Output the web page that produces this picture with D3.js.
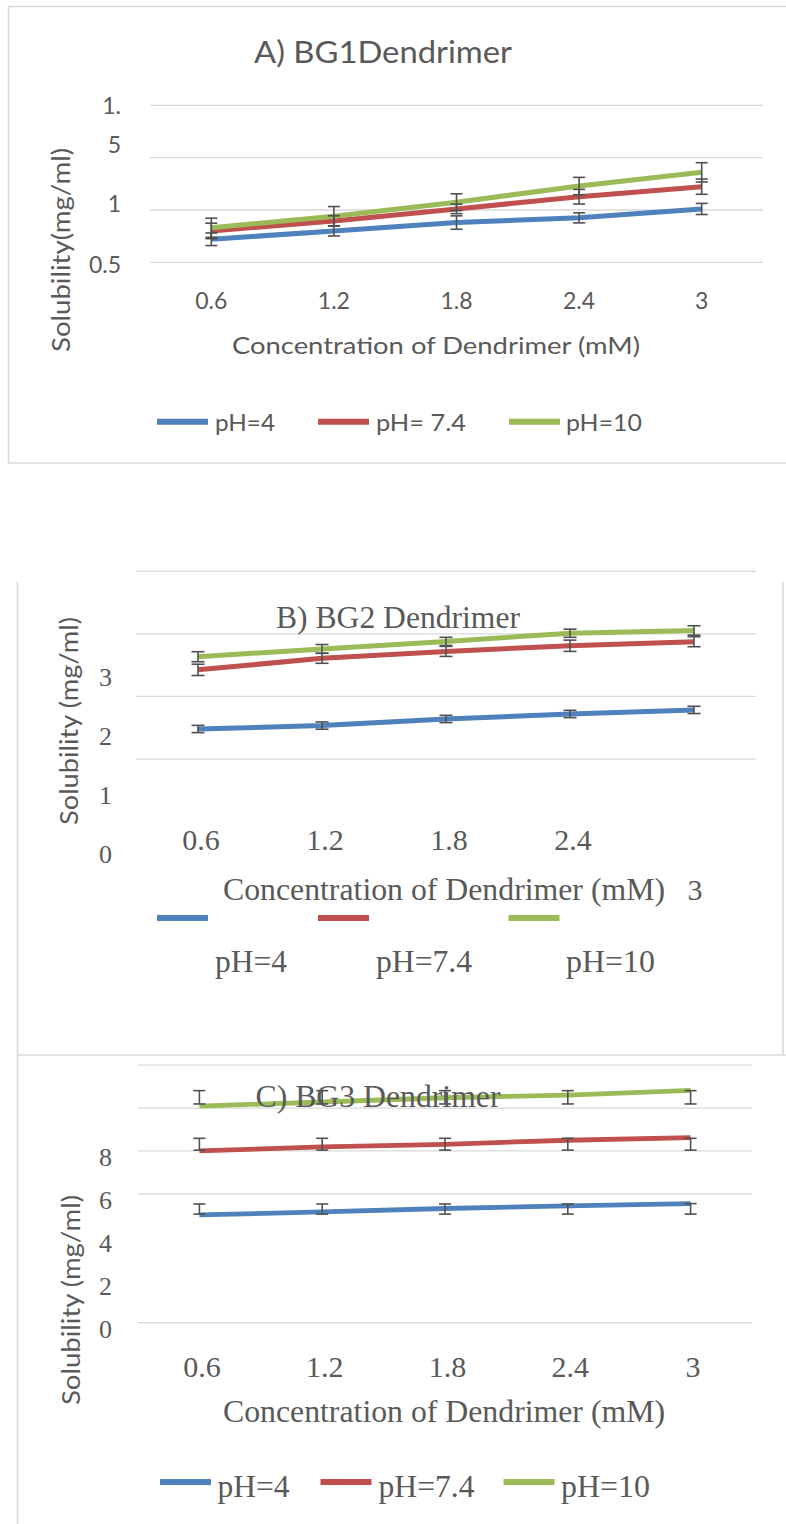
<!DOCTYPE html>
<html>
<head>
<meta charset="utf-8">
<script src="https://cdn.jsdelivr.net/npm/d3@7"></script>
<style>
  html, body { margin: 0; padding: 0; background: #ffffff; }
  svg { display: block; }
</style>
</head>
<body>
<script>
// ---------- DATA ----------
const categories = ["0.6", "1.2", "1.8", "2.4", "3"];
const seriesNames = ["pH=4", "pH=7.4", "pH=10"];
const legendLabelsA = ["pH=4", "pH= 7.4", "pH=10"];
const legendLabelsB = ["pH=4", "pH=7.4", "pH=10"];
const legendLabelsC = ["pH=4", "pH=7.4", "pH=10"];
const titleA = "A) BG1Dendrimer";
const titleB = "B) BG2 Dendrimer";
const titleC = "C) BG3 Dendrimer";
const xTitle = "Concentration of Dendrimer (mM)";
const yTitleA = "Solubility(mg/ml)";
const yTitleBC = "Solubility (mg/ml)";

// Panel A
const a_pH4  = [0.72, 0.80, 0.88, 0.925, 1.01];
const a_pH74 = [0.80, 0.895, 1.01, 1.127, 1.223];
const a_pH10 = [0.83, 0.941, 1.075, 1.229, 1.36];
const a_err_pH4  = [0.06, 0.048, 0.064, 0.048, 0.053];
const a_err_pH74 = [0.074, 0.05, 0.045, 0.07, 0.073];
const a_err_pH10 = [0.092, 0.092, 0.08, 0.083, 0.092];
const a_gridValues = [0.5, 1, 1.5, 2];
const a_tickValues = [0.5, 1, 1.5];
const a_tickLabels = ["0.5", "1", "1.5"];

// Panel B
const b_pH4  = [1.48, 1.535, 1.64, 1.72, 1.785];
const b_pH74 = [2.425, 2.61, 2.72, 2.81, 2.875];
const b_pH10 = [2.635, 2.76, 2.88, 3.01, 3.055];
const b_err_pH4  = [0.058, 0.058, 0.058, 0.058, 0.058];
const b_err_pH74 = [0.09, 0.08, 0.08, 0.09, 0.08];
const b_err_pH10 = [0.08, 0.07, 0.065, 0.065, 0.075];
const b_gridValues = [1, 2, 3, 4];
const b_tickValues = [0, 1, 2, 3];
const b_tickLabels = ["0", "1", "2", "3"];

// Panel C
const c_pH4  = [5.02, 5.16, 5.32, 5.44, 5.55];
const c_pH74 = [8.0, 8.19, 8.31, 8.50, 8.62];
const c_pH10 = [10.09, 10.28, 10.48, 10.60, 10.82];
const c_errLo_pH4  = [5.06, 5.06, 5.06, 5.06, 5.06];
const c_errHi_pH4  = [5.53, 5.53, 5.53, 5.53, 5.55];
const c_errLo_pH74 = [8.04, 8.04, 8.04, 8.04, 8.04];
const c_errHi_pH74 = [8.59, 8.59, 8.59, 8.59, 8.59];
const c_errLo_pH10 = [10.19, 10.19, 10.19, 10.19, 10.19];
const c_errHi_pH10 = [10.81, 10.81, 10.81, 10.81, 10.81];
const c_gridValues = [0, 6, 8, 10, 12];
const c_tickValues = [0, 2, 4, 6, 8];
const c_tickLabels = ["0", "2", "4", "6", "8"];

// ---------- STYLE ----------
const colors = ["#4F81BD", "#C0504D", "#9BBB59"];
const textColor = "#595959";
const gridColor = "#D9D9D9";
const errColor = "#505050";
const SANS = "Lato, 'Open Sans', 'DejaVu Sans', sans-serif";
const SERIF = "'Liberation Serif', 'DejaVu Serif', serif";

const svg = d3.select("body").append("svg")
  .attr("width", 786).attr("height", 1524);
svg.append("rect").attr("width", 786).attr("height", 1524).attr("fill", "#fff");

function txt(g, s, x, y, o) {
  const t = g.append("text").attr("x", x).attr("y", y).text(s)
    .attr("fill", textColor)
    .attr("font-family", o.font)
    .attr("font-size", o.size)
    .attr("text-anchor", o.anchor || "start");
  if (o.len) t.attr("textLength", o.len).attr("lengthAdjust", "spacingAndGlyphs");
  if (o.transform) t.attr("transform", o.transform);
  return t;
}
function vtxt(g, s, bx, cy, o) {
  const t = g.append("text").attr("transform", `translate(${bx},${cy}) rotate(-90)`)
    .attr("x", 0).attr("y", 0).text(s)
    .attr("fill", textColor).attr("font-family", o.font).attr("font-size", o.size)
    .attr("text-anchor", "middle");
  if (o.len) t.attr("textLength", o.len).attr("lengthAdjust", "spacingAndGlyphs");
  return t;
}

function drawGrid(g, x, y, values) {
  const r = x.range();
  g.append("g").selectAll("line").data(values).join("line")
    .attr("x1", r[0]).attr("x2", r[1])
    .attr("y1", d => y(d)).attr("y2", d => y(d))
    .attr("stroke", gridColor).attr("stroke-width", 1.3);
}

function drawSeries(g, x, y, series, lw) {
  const cx = c => x(c) + x.bandwidth() / 2;
  series.forEach((vals, k) => {
    const line = d3.line().x((d, i) => cx(categories[i])).y(d => y(d));
    g.append("path").datum(vals).attr("d", line)
      .attr("fill", "none").attr("stroke", colors[k]).attr("stroke-width", lw)
      .attr("stroke-linejoin", "round");
  });
}

function drawErrors(g, x, y, lows, highs, cap) {
  const cx = c => x(c) + x.bandwidth() / 2;
  lows.forEach((lo, k) => {
    const hi = highs[k];
    const eg = g.append("g").attr("stroke", errColor).attr("stroke-width", 1.6);
    categories.forEach((c, i) => {
      const xx = cx(c), y1 = y(lo[i]), y2 = y(hi[i]);
      eg.append("line").attr("x1", xx).attr("x2", xx).attr("y1", y1).attr("y2", y2);
      eg.append("line").attr("x1", xx - cap).attr("x2", xx + cap).attr("y1", y1).attr("y2", y1);
      eg.append("line").attr("x1", xx - cap).attr("x2", xx + cap).attr("y1", y2).attr("y2", y2);
    });
  });
}
const sub = (v, e) => v.map((d, i) => d - e[i]);
const add = (v, e) => v.map((d, i) => d + e[i]);

function drawLegend(g, labels, layout, font, size) {
  labels.forEach((lab, k) => {
    const L = layout[k];
    g.append("line").attr("x1", L.sx).attr("x2", L.sx + 51)
      .attr("y1", L.sy).attr("y2", L.sy)
      .attr("stroke", colors[k]).attr("stroke-width", 6);
    txt(g, lab, L.tx, L.ty, { font: font, size: size, len: L.len });
  });
}

// ---------- BORDERS ----------
const borders = svg.append("g").attr("stroke", gridColor).attr("stroke-width", 1.6).attr("fill", "none");
borders.append("path").attr("d", "M786,6.5 H8.5 V463 H786");
borders.append("path").attr("d", "M17.5,582 V1524");
borders.append("path").attr("d", "M783,582 V1055");
borders.append("path").attr("d", "M17.5,1055 H786");

// ---------- PANEL A ----------
{
  const g = svg.append("g");
  const x = d3.scaleBand().domain(categories).range([150, 763]).padding(0);
  const y = d3.scaleLinear().domain([0.5, 2]).range([262.3, 105.4]);
  drawGrid(g, x, y, a_gridValues);
  drawSeries(g, x, y, [a_pH4, a_pH74, a_pH10], 5);
  drawErrors(g, x, y,
    [sub(a_pH4, a_err_pH4), sub(a_pH74, a_err_pH74), sub(a_pH10, a_err_pH10)],
    [add(a_pH4, a_err_pH4), add(a_pH74, a_err_pH74), add(a_pH10, a_err_pH10)], 6);
  // y tick labels (the "1.5" label is wrapped onto two lines in the original)
  a_tickValues.forEach((v, i) => {
    const lab = a_tickLabels[i];
    if (lab === "1.5") {
      txt(g, "1.", 121, y(v) - 43.4, { font: SANS, size: 23, anchor: "end" });
      txt(g, "5", 121, y(v) - 5, { font: SANS, size: 23, anchor: "end" });
    } else {
      txt(g, lab, 121, y(v) + (v === 0.5 ? 10.4 : 2.3), { font: SANS, size: 23, anchor: "end" });
    }
  });
  categories.forEach(c => {
    txt(g, c, x(c) + x.bandwidth() / 2, 309.3, { font: SANS, size: 23, anchor: "middle" });
  });
  txt(g, xTitle, 436, 354, { font: SANS, size: 23, anchor: "middle", len: 408 });
  vtxt(g, yTitleA, 70, 250, { font: SANS, size: 25, len: 204 });
  txt(g, titleA, 383, 62.7, { font: SANS, size: 30, anchor: "middle", len: 258 });
  drawLegend(g, legendLabelsA, [
    { sx: 157, sy: 421.7, tx: 215, ty: 430.7, len: 60 },
    { sx: 318, sy: 421.7, tx: 376, ty: 430.7, len: 90 },
    { sx: 509, sy: 421.7, tx: 566, ty: 430.7, len: 76 }
  ], SANS, 24);
}

// ---------- PANEL B ----------
{
  const g = svg.append("g");
  const x = d3.scaleBand().domain(categories).range([136, 756]).padding(0);
  const y = d3.scaleLinear().domain([0, 4]).range([821.6, 571.3]);
  const labelY = d3.scaleLinear().domain([0, 3]).range([863, 686]); // misplaced tick labels
  drawGrid(g, x, y, b_gridValues);
  drawSeries(g, x, y, [b_pH4, b_pH74, b_pH10], 5);
  drawErrors(g, x, y,
    [sub(b_pH4, b_err_pH4), sub(b_pH74, b_err_pH74), sub(b_pH10, b_err_pH10)],
    [add(b_pH4, b_err_pH4), add(b_pH74, b_err_pH74), add(b_pH10, b_err_pH10)], 6.5);
  b_tickValues.forEach((v, i) => {
    txt(g, b_tickLabels[i], 112, labelY(v), { font: SERIF, size: 26, anchor: "end" });
  });
  categories.forEach((c, i) => {
    const cx = x(c) + x.bandwidth() / 2;
    if (i < categories.length - 1) {
      txt(g, c, cx + 3, 850, { font: SERIF, size: 30, anchor: "middle" });
    } else {
      txt(g, c, cx + 1, 900, { font: SERIF, size: 30, anchor: "middle" });
    }
  });
  txt(g, xTitle, 444, 900, { font: SERIF, size: 32, anchor: "middle", len: 442 });
  vtxt(g, yTitleBC, 78, 721, { font: SANS, size: 25, len: 208 });
  txt(g, titleB, 398, 628.3, { font: SERIF, size: 32, anchor: "middle", len: 244 });
  drawLegend(g, legendLabelsB, [
    { sx: 157, sy: 918, tx: 215, ty: 971.7, len: 72 },
    { sx: 318, sy: 918, tx: 376, ty: 971.7, len: 96 },
    { sx: 508.5, sy: 918, tx: 566, ty: 971.7, len: 89 }
  ], SERIF, 32);
}

// ---------- PANEL C ----------
{
  const g = svg.append("g");
  const x = d3.scaleBand().domain(categories).range([138, 752]).padding(0);
  const y = d3.scaleLinear().domain([0, 12]).range([1322.7, 1065.1]);
  drawGrid(g, x, y, c_gridValues);
  drawSeries(g, x, y, [c_pH4, c_pH74, c_pH10], 4.8);
  drawErrors(g, x, y,
    [c_errLo_pH4, c_errLo_pH74, c_errLo_pH10],
    [c_errHi_pH4, c_errHi_pH74, c_errHi_pH10], 6);
  c_tickValues.forEach((v, i) => {
    txt(g, c_tickLabels[i], 112, y(v) + 15, { font: SERIF, size: 26, anchor: "end" });
  });
  categories.forEach(c => {
    txt(g, c, x(c) + x.bandwidth() / 2 + 2.5, 1376.7, { font: SERIF, size: 30, anchor: "middle" });
  });
  txt(g, xTitle, 444, 1421.7, { font: SERIF, size: 32, anchor: "middle", len: 442 });
  vtxt(g, yTitleBC, 80, 1300, { font: SANS, size: 25, len: 210 });
  txt(g, titleC, 378, 1107.3, { font: SERIF, size: 32, anchor: "middle", len: 245 });
  drawLegend(g, legendLabelsC, [
    { sx: 160, sy: 1482, tx: 217.5, ty: 1496.7, len: 72 },
    { sx: 320.5, sy: 1482, tx: 378.5, ty: 1496.7, len: 96 },
    { sx: 503.5, sy: 1482, tx: 561, ty: 1496.7, len: 89 }
  ], SERIF, 32);
}
</script>
</body>
</html>
